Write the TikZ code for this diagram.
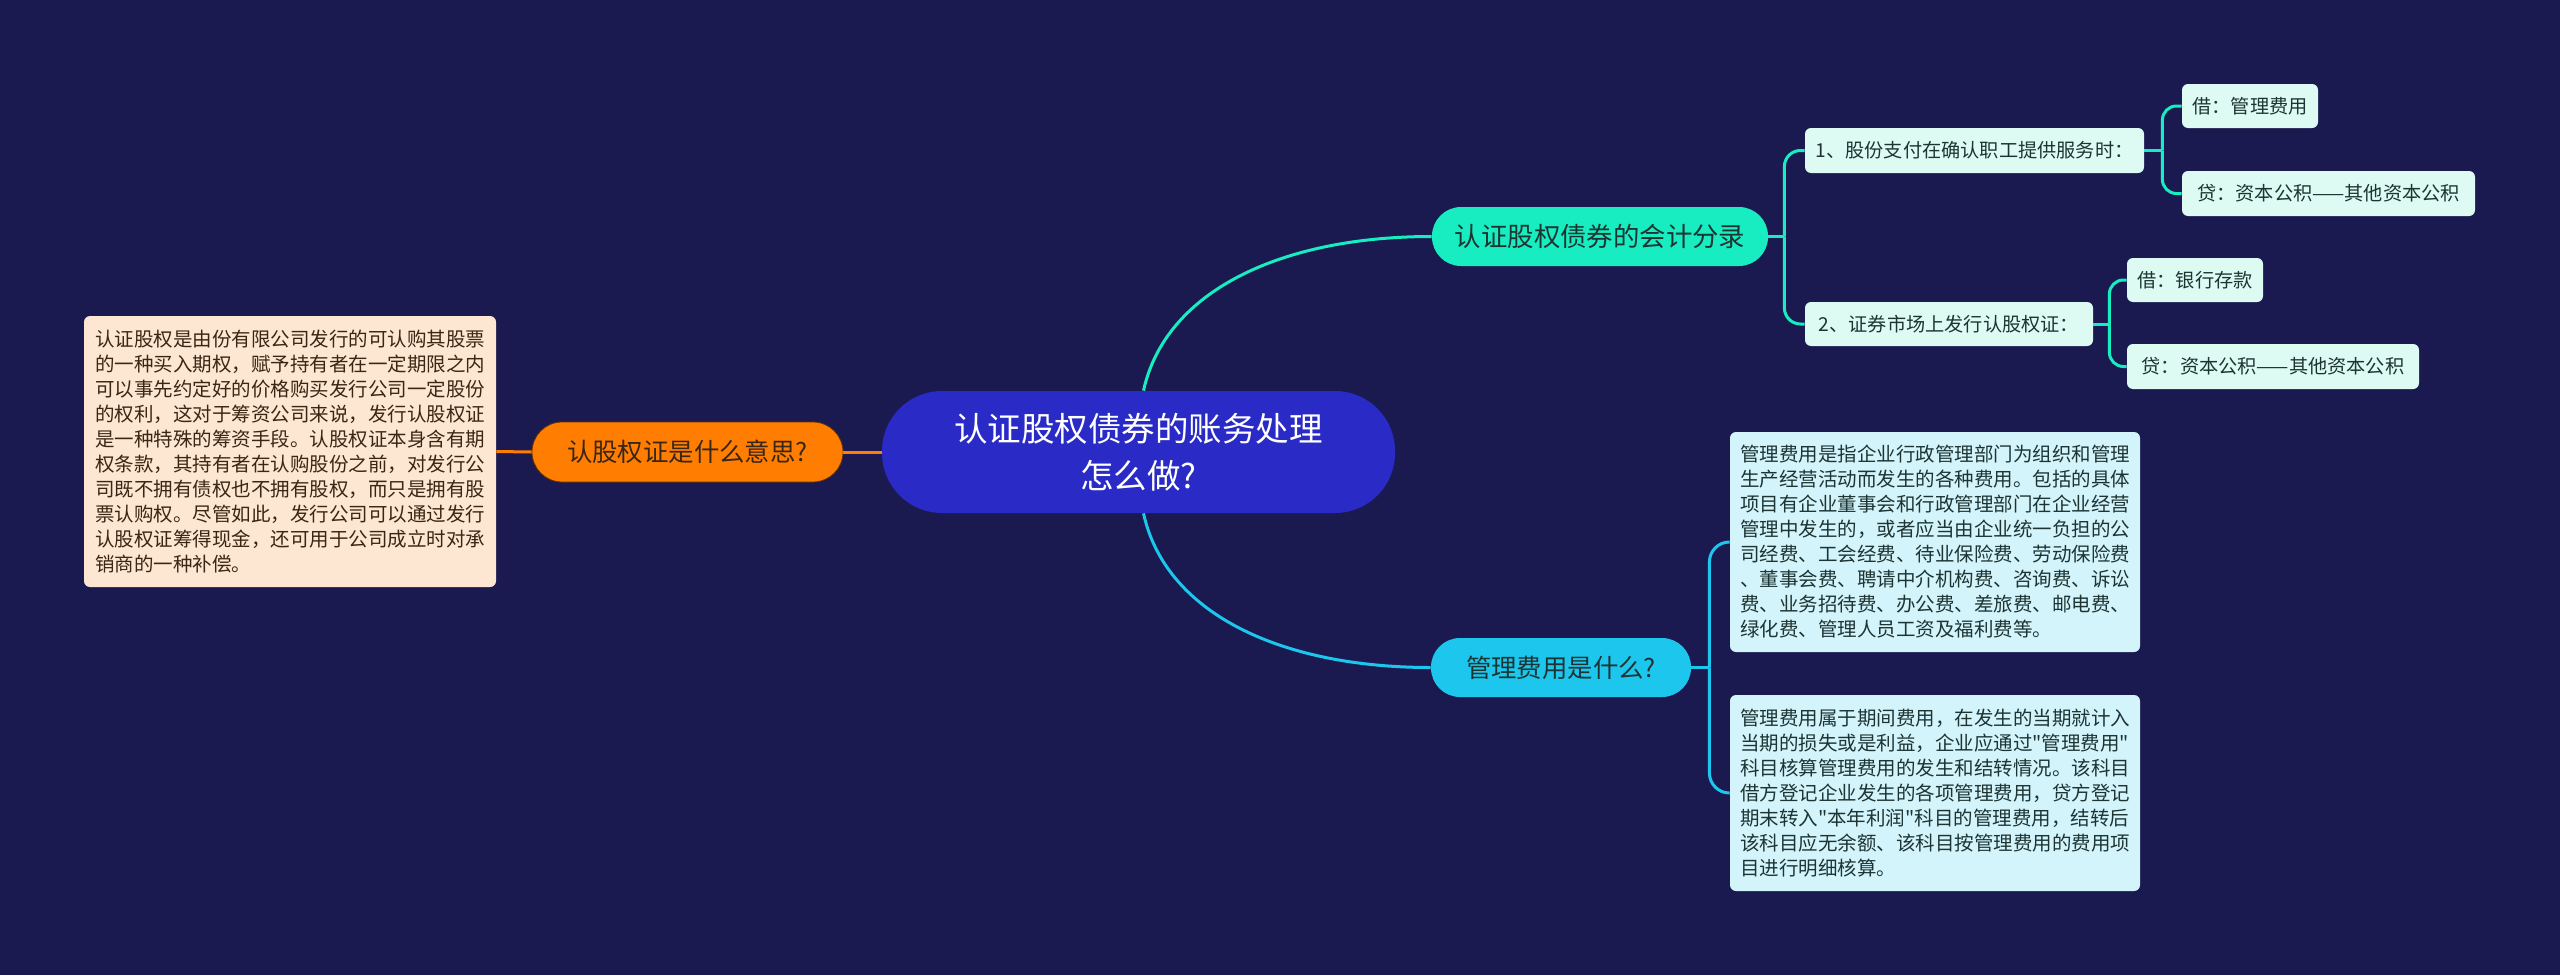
\documentclass[tikz,border=0pt]{standalone}
\usepackage{fontspec}
\setmainfont{Noto Sans CJK SC}[Ligatures=TeXOff]
\usetikzlibrary{calc}
\definecolor{bg}{HTML}{1A1A50}
\definecolor{rootc}{HTML}{2A2AC6}
\definecolor{orangec}{HTML}{FF7D00}
\definecolor{peach}{HTML}{FDE7D3}
\definecolor{greenc}{HTML}{17EDC0}
\definecolor{mint}{HTML}{DDFBF3}
\definecolor{bluec}{HTML}{1CC6EC}
\definecolor{iceblue}{HTML}{D4F4FC}
\definecolor{darktxt}{HTML}{1D3433}
\definecolor{browntxt}{HTML}{3A2614}
\begin{document}
\begin{tikzpicture}[x=0.5pt,y=-0.5pt,
  rootbox/.style={fill=rootc,text=white,rounded corners=30pt,minimum width=256.5pt,minimum height=61pt,inner sep=0pt,align=center,font=\fontsize{16.75pt}{23.5pt}\selectfont},
  pill/.style={rounded corners=14.5pt,minimum height=29.5pt,inner sep=0pt,align=center},
  leaf/.style={rounded corners=3pt,minimum height=22pt,inner sep=0pt,align=left,text=darktxt,font=\fontsize{9.6pt}{12pt}\selectfont},
  para/.style={rounded corners=3pt,inner sep=0pt,align=left,font=\fontsize{9.75pt}{12.5pt}\selectfont},
  gline/.style={draw=greenc,line width=1.5pt},
  bline/.style={draw=bluec,line width=1.5pt},
  oline/.style={draw=orangec,line width=1.5pt}]
\useasboundingbox (0,0) rectangle (2560,975);
\fill[bg] (0,0) rectangle (2560,975);

% root
\node[rootbox] (root) at (1138.5,452) {认证股权债券的账务处理\\怎么做?};

% left branch
\node[pill,fill=orangec,draw=black!60!orangec,line width=0.4pt,text=browntxt,minimum width=155.5pt,minimum height=30pt,rounded corners=15pt,font=\fontsize{12.7pt}{15pt}\selectfont] (orange) at (687.5,452) {认股权证是什么意思?};
\node[para,fill=peach,text=browntxt,minimum width=206pt,minimum height=135.5pt] (leftbox) at (290,451.5) {认证股权是由份有限公司发行的可认购其股票\\的一种买入期权，赋予持有者在一定期限之内\\可以事先约定好的价格购买发行公司一定股份\\的权利，这对于筹资公司来说，发行认股权证\\是一种特殊的筹资手段。认股权证本身含有期\\权条款，其持有者在认购股份之前，对发行公\\司既不拥有债权也不拥有股权，而只是拥有股\\票认购权。尽管如此，发行公司可以通过发行\\认股权证筹得现金，还可用于公司成立时对承\\销商的一种补偿。};

% upper right branch
\node[pill,fill=greenc,text=darktxt,minimum width=168pt,font=\fontsize{13.2pt}{16pt}\selectfont] (green) at (1600,236.5) {认证股权债券的会计分录};
\node[leaf,fill=mint,minimum width=169.5pt,minimum height=22.5pt] (c1) at (1974.5,150.5) {1、股份支付在确认职工提供服务时：};
\node[leaf,fill=mint,minimum width=144pt] (c2) at (1949,324) {2、证券市场上发行认股权证：};
\node[leaf,fill=mint,minimum width=68pt] (l1) at (2250,106) {借：管理费用};
\node[leaf,fill=mint,minimum width=146.5pt,minimum height=22.5pt] (l2) at (2328.5,193.5) {贷：资本公积——其他资本公积};
\node[leaf,fill=mint,minimum width=68pt] (l3) at (2195,280) {借：银行存款};
\node[leaf,fill=mint,minimum width=146pt,minimum height=22.5pt] (l4) at (2273,366.5) {贷：资本公积——其他资本公积};

% lower right branch
\node[pill,fill=bluec,text=darktxt,minimum width=130pt,font=\fontsize{12.7pt}{15pt}\selectfont] (blue) at (1561,667.5) {管理费用是什么?};
\node[para,fill=iceblue,text=darktxt,minimum width=205pt,minimum height=110pt] (b1) at (1935,542) {管理费用是指企业行政管理部门为组织和管理\\生产经营活动而发生的各种费用。包括的具体\\项目有企业董事会和行政管理部门在企业经营\\管理中发生的，或者应当由企业统一负担的公\\司经费、工会经费、待业保险费、劳动保险费\\、董事会费、聘请中介机构费、咨询费、诉讼\\费、业务招待费、办公费、差旅费、邮电费、\\绿化费、管理人员工资及福利费等。};
\node[para,fill=iceblue,text=darktxt,minimum width=205pt,minimum height=98pt] (b2) at (1935,793) {管理费用属于期间费用，在发生的当期就计入\\当期的损失或是利益，企业应通过"管理费用"\\科目核算管理费用的发生和结转情况。该科目\\借方登记企业发生的各项管理费用，贷方登记\\期末转入"本年利润"科目的管理费用，结转后\\该科目应无余额、该科目按管理费用的费用项\\目进行明细核算。};

% connectors
\draw[oline] (root.west) -- (orange.east);
\draw[oline] (orange.west) -- (leftbox.east);
\draw[gline] ($(root.north)+(5,0)$) .. controls +(22,-100) and +(-150,0) .. (green.west);
\draw[bline] ($(root.south)+(5,0)$) .. controls +(22,100) and +(-150,0) .. (blue.west);

\draw[gline] (green.east) -- ++(16,0) coordinate (gj);
\draw[gline,rounded corners=8pt] (gj) |- (c1.west);
\draw[gline,rounded corners=8pt] (gj) |- (c2.west);

\draw[gline] (c1.east) -- ++(18,0) coordinate (j1);
\draw[gline,rounded corners=7pt] (j1) |- (l1.west);
\draw[gline,rounded corners=7pt] (j1) |- (l2.west);

\draw[gline] (c2.east) -- ++(16,0) coordinate (j2);
\draw[gline,rounded corners=7pt] (j2) |- (l3.west);
\draw[gline,rounded corners=7pt] (j2) |- (l4.west);

\draw[bline] (blue.east) -- ++(18,0) coordinate (bj);
\draw[bline,rounded corners=10pt] (bj) |- (b1.west);
\draw[bline,rounded corners=10pt] (bj) |- (b2.west);
\end{tikzpicture}
\end{document}
